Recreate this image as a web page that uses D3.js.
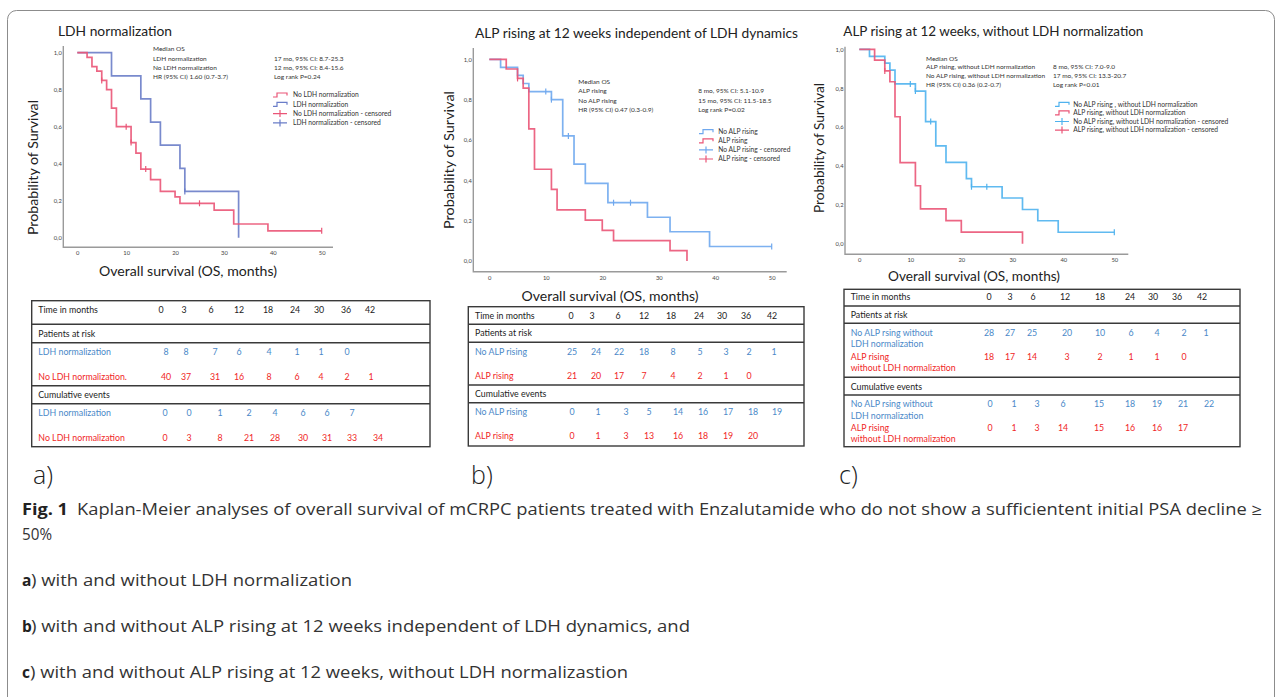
<!DOCTYPE html>
<html>
<head>
<meta charset="utf-8">
<script src="https://cdn.jsdelivr.net/npm/d3@7"></script>
<style>
body { margin: 0; background: #fff; }
text { font-family: Lato, "Open Sans", sans-serif; }
</style>
</head>
<body>
<div id="container"></div>
<script>
var width = 1282,
    height = 697;

// axis ticks of the survival plots
var monthTicks = [0, 10, 20, 30, 40, 50];
var survTicks = [0, 0.2, 0.4, 0.6, 0.8, 1.0];

// a) Kaplan-Meier steps [month, survival] and censored marks
var aNoLdh = [[0,1],[2,0.975],[3,0.925],[4,0.9],[5,0.85],[6,0.8],[7,0.7],[8,0.6],[11,0.514],[12,0.457],[13,0.371],[15,0.314],[17,0.25],[20,0.221],[21,0.186],[28,0.149],[32,0.074],[39,0.037],[50,0.037]];
var aNoLdhCens = [[5,0.85],[10,0.6],[11,0.514],[14,0.371],[25,0.186],[50,0.037]];
var aLdh = [[0,1],[7,0.875],[13,0.75],[15,0.625],[17,0.5],[21,0.375],[22,0.25],[33,0.25],[33,0]];
var aLdhCens = [[22,0.25]];

// b)
var bNoAlp = [[0,1],[2,0.96],[5,0.92],[6,0.88],[7,0.84],[11,0.8],[13,0.62],[15,0.48],[17,0.385],[21,0.289],[28,0.217],[32,0.145],[39,0.072],[50,0.072]];
var bNoAlpCens = [[10,0.84],[11,0.8],[14,0.62],[22,0.289],[25,0.289],[50,0.072]];
var bAlp = [[0,1],[3,0.952],[5,0.905],[6,0.857],[7,0.655],[8,0.455],[11,0.355],[12,0.253],[17,0.203],[20,0.152],[22,0.101],[32,0.051],[35,0.051],[35,0]];
var bAlpCens = [[5,0.905]];

// c)
var cNoAlp = [[0,1],[2,0.964],[5,0.929],[6,0.893],[7,0.822],[11,0.785],[13,0.628],[15,0.503],[17,0.418],[21,0.335],[22,0.293],[28,0.235],[32,0.176],[35,0.118],[39,0.059],[50,0.059]];
var cNoAlpCens = [[10,0.822],[11,0.785],[14,0.628],[22,0.293],[25,0.293],[50,0.059]];
var cAlp = [[0,1],[3,0.944],[5,0.889],[6,0.833],[7,0.653],[8,0.417],[11,0.298],[12,0.179],[17,0.119],[20,0.06],[32,0.06],[32,0]];
var cAlpCens = [[5,0.889]];

// number-at-risk tables
var tableMonths = ["0", "3", "6", "12", "18", "24", "30", "36", "42"];
var aRiskLdh = [8, 8, 7, 6, 4, 1, 1, 0];
var aRiskNoLdh = [40, 37, 31, 16, 8, 6, 4, 2, 1];
var aEventsLdh = [0, 0, 1, 2, 4, 6, 6, 7];
var aEventsNoLdh = [0, 3, 8, 21, 28, 30, 31, 33, 34];
var bRiskNoAlp = [25, 24, 22, 18, 8, 5, 3, 2, 1];
var bRiskAlp = [21, 20, 17, 7, 4, 2, 1, 0];
var bEventsNoAlp = [0, 1, 3, 5, 14, 16, 17, 18, 19];
var bEventsAlp = [0, 1, 3, 13, 16, 18, 19, 20];
var cRiskNoAlp = [28, 27, 25, 20, 10, 6, 4, 2, 1];
var cRiskAlp = [18, 17, 14, 3, 2, 1, 1, 0];
var cEventsNoAlp = [0, 1, 3, 6, 15, 18, 19, 21, 22];
var cEventsAlp = [0, 1, 3, 14, 15, 16, 16, 17];

var red = "#ea5577",
    blueA = "#6a7dc8",
    blueB = "#6fa8ee",
    blueC = "#4fb2ee",
    tBlue = "#4a88c8",
    tRed = "#f02626";

var panels = [
  {
    title: "LDH normalization", titleX: 58, titleY: 36, titleLen: 114,
    x0: 77.3, x50: 321.7, y1: 52.7, y0: 237.7,
    axL: 63.3, axT: 46, axB: 247.3, axR: 333,
    yLab: [33, 167.5, 135], xLab: [188, 276, 178],
    stats: [["Median OS", ""], ["LDH normalization", "17 mo, 95% CI: 8.7-25.3"], ["No LDH normalization", "12 mo, 95% CI: 8.4-15.6"], ["HR (95% CI) 1.60 (0.7-3.7)", "Log rank P=0.24"]],
    statX: [153, 274], statY: 49, statDy: 9.4,
    series: [
      {name: "LDH normalization", color: blueA, steps: aLdh, cens: aLdhCens},
      {name: "No LDH normalization", color: red, steps: aNoLdh, cens: aNoLdhCens}
    ],
    legend: [["No LDH normalization", red, "step"], ["LDH normalization", blueA, "step"], ["No LDH normalization - censored", red, "cens"], ["LDH normalization - censored", blueA, "cens"]],
    legX: 273, legTx: 293, legY: 95, legDy: 9.3
  },
  {
    title: "ALP rising at 12 weeks independent of LDH dynamics", titleX: 475, titleY: 38, titleLen: 323,
    x0: 489.3, x50: 771.7, y1: 59.3, y0: 261,
    axL: 473.3, axT: 48, axB: 271.7, axR: 786.7,
    yLab: [449.3, 160, 138], xLab: [610, 301, 177],
    stats: [["Median OS", ""], ["ALP rising", "8 mo, 95% CI: 5.1-10.9"], ["No ALP rising", "15 mo, 95% CI: 11.5-18.5"], ["HR (95% CI) 0.47 (0.3-0.9)", "Log rank P=0.02"]],
    statX: [578.3, 698.3], statY: 81.7, statDy: 9.5,
    series: [
      {name: "No ALP rising", color: blueB, steps: bNoAlp, cens: bNoAlpCens},
      {name: "ALP rising", color: red, steps: bAlp, cens: bAlpCens}
    ],
    legend: [["No ALP rising", blueB, "step"], ["ALP rising", red, "step"], ["No ALP rising - censored", blueB, "cens"], ["ALP rising - censored", red, "cens"]],
    legX: 699, legTx: 718.3, legY: 131.7, legDy: 9.1
  },
  {
    title: "ALP rising at 12 weeks, without LDH normalization", titleX: 843.3, titleY: 36, titleLen: 300,
    x0: 859.3, x50: 1114.3, y1: 49.3, y0: 243.7,
    axL: 845, axT: 46.7, axB: 254.3, axR: 1128.3,
    yLab: [819, 148, 130], xLab: [974, 281, 172],
    stats: [["Median OS", ""], ["ALP rising, without LDH normalization", "8 mo, 95% CI: 7.0-9.0"], ["No ALP rising, without LDH normalization", "17 mo, 95% CI: 13.3-20.7"], ["HR (95% CI) 0.36 (0.2-0.7)", "Log rank P<0.01"]],
    statX: [926, 1053], statY: 58.3, statDy: 8.9,
    series: [
      {name: "No ALP rising", color: blueC, steps: cNoAlp, cens: cNoAlpCens},
      {name: "ALP rising", color: red, steps: cAlp, cens: cAlpCens}
    ],
    legend: [["No ALP rising , without LDH normalization", blueC, "step"], ["ALP rising, without LDH normalization", red, "step"], ["No ALP rising, without LDH normalization - censored", blueC, "cens"], ["ALP rising, without LDH normalization - censored", red, "cens"]],
    legX: 1055, legTx: 1073.3, legY: 104.3, legDy: 8.6
  }
];

var tables = [
  {
    box: [31.7, 300.7, 430, 446.7], seps: [324.3, 342.7, 385.7, 403.7], labelX: 38.3,
    headY: 310, atRiskY: 334, cumY: 395,
    headCols: [161, 184, 211, 239, 268, 295, 319, 346, 370],
    riskCols: [166, 186, 215, 239, 269, 297, 321, 347, 371],
    eventCols: [165, 189, 220, 249, 275, 303, 327, 352, 378],
    rows: [
      {y: 352.3, lines: ["LDH normalization"], color: tBlue, vals: aRiskLdh, cols: "riskCols"},
      {y: 376.7, lines: ["No LDH normalization."], color: tRed, vals: aRiskNoLdh, cols: "riskCols"},
      {y: 413.3, lines: ["LDH normalization"], color: tBlue, vals: aEventsLdh, cols: "eventCols"},
      {y: 437.7, lines: ["No LDH normalization"], color: tRed, vals: aEventsNoLdh, cols: "eventCols"}
    ]
  },
  {
    box: [468.3, 306.7, 804, 446], seps: [324.3, 342.3, 385, 402.7], labelX: 475,
    headY: 315.7, atRiskY: 333.3, cumY: 394,
    headCols: [571, 592, 618, 644, 671, 699, 722, 746, 772],
    riskCols: [572, 596, 619, 644, 673, 700, 726, 749, 774],
    eventCols: [572, 598, 626, 649, 678, 703, 728, 753, 777],
    rows: [
      {y: 351.7, lines: ["No ALP rising"], color: tBlue, vals: bRiskNoAlp, cols: "riskCols"},
      {y: 375.7, lines: ["ALP rising"], color: tRed, vals: bRiskAlp, cols: "riskCols"},
      {y: 412.3, lines: ["No ALP rising"], color: tBlue, vals: bEventsNoAlp, cols: "eventCols"},
      {y: 436.3, lines: ["ALP rising"], color: tRed, vals: bEventsAlp, cols: "eventCols"}
    ]
  },
  {
    box: [844, 289.3, 1240, 446.7], seps: [306, 323.3, 377.3, 395], labelX: 850.7,
    headY: 297.3, atRiskY: 315, cumY: 386.7,
    headCols: [989, 1010, 1033, 1065, 1100, 1130, 1153, 1177, 1202],
    riskCols: [989, 1010, 1032, 1067, 1100, 1131, 1157, 1184, 1206],
    eventCols: [990, 1014, 1037, 1063, 1099, 1130, 1157, 1183, 1209],
    rows: [
      {y: 332.7, lines: ["No ALP rsing without", "LDH normalization"], color: tBlue, vals: cRiskNoAlp, cols: "riskCols"},
      {y: 356.7, lines: ["ALP rising", "without LDH normalization"], color: tRed, vals: cRiskAlp, cols: "riskCols"},
      {y: 404, lines: ["No ALP rsing without", "LDH normalization"], color: tBlue, vals: cEventsNoAlp, cols: "eventCols"},
      {y: 427.7, lines: ["ALP rising", "without LDH normalization"], color: tRed, vals: cEventsAlp, cols: "eventCols"}
    ]
  }
];

var panelLetters = [["a)", 33], ["b)", 471], ["c)", 839]];

var svg = d3.select("#container").append("svg")
    .attr("width", width)
    .attr("height", height);

// figure frame
svg.append("rect")
    .attr("x", 7.5).attr("y", 10.5)
    .attr("width", 1267).attr("height", 720)
    .attr("rx", 9)
    .attr("fill", "none")
    .attr("stroke", "#8c8c8c");

panels.forEach(drawPanel);
tables.forEach(drawTable);

function drawPanel(p) {
    var x = d3.scaleLinear().domain([0, 50]).range([p.x0, p.x50]);
    var y = d3.scaleLinear().domain([0, 1]).range([p.y0, p.y1]);
    var g = svg.append("g");

    g.append("text")
        .attr("x", p.titleX).attr("y", p.titleY)
        .attr("font-size", 13.5)
        .attr("fill", "#222")
        .attr("textLength", p.titleLen)
        .attr("lengthAdjust", "spacingAndGlyphs")
        .text(p.title);

    // axis lines
    g.append("path")
        .attr("d", "M" + p.axL + "," + p.axT + "V" + p.axB + "H" + p.axR)
        .attr("fill", "none")
        .attr("stroke", "#9a9a9a")
        .attr("stroke-width", 1.4);

    var xAxis = g.append("g")
        .attr("transform", "translate(0," + p.axB + ")")
        .call(d3.axisBottom(x).tickValues(monthTicks).tickSize(0).tickPadding(4));
    var yAxis = g.append("g")
        .attr("transform", "translate(" + (p.axL - 1.5) + ",0)")
        .call(d3.axisLeft(y).tickValues(survTicks).tickSize(0).tickPadding(0)
            .tickFormat(function(d) { return d3.format(".1f")(d).replace(".", ","); }));
    [xAxis, yAxis].forEach(function(a) {
        a.select(".domain").remove();
        a.attr("font-family", null).attr("font-size", null);
        a.selectAll("text").attr("font-size", 5.8).attr("fill", "#444");
    });

    // axis titles
    g.append("text")
        .attr("transform", "translate(" + p.yLab[0] + "," + p.yLab[1] + ") rotate(-90)")
        .attr("text-anchor", "middle")
        .attr("dy", "0.35em")
        .attr("font-size", 14)
        .attr("fill", "#222")
        .attr("textLength", p.yLab[2])
        .attr("lengthAdjust", "spacingAndGlyphs")
        .text("Probability of Survival");
    g.append("text")
        .attr("x", p.xLab[0] - p.xLab[2] / 2).attr("y", p.xLab[1])
        .attr("font-size", 14)
        .attr("fill", "#222")
        .attr("textLength", p.xLab[2])
        .attr("lengthAdjust", "spacingAndGlyphs")
        .text("Overall survival (OS, months)");

    // curves
    var line = d3.line()
        .x(function(d) { return x(d[0]); })
        .y(function(d) { return y(d[1]); })
        .curve(d3.curveStepAfter);

    p.series.forEach(function(s) {
        g.append("path")
            .datum(s.steps)
            .attr("d", line)
            .attr("fill", "none")
            .attr("stroke", s.color)
            .attr("stroke-width", 1.7)
            .attr("stroke-opacity", 0.9);
        g.selectAll(null)
            .data(s.cens)
            .join("line")
            .attr("x1", function(d) { return x(d[0]); })
            .attr("x2", function(d) { return x(d[0]); })
            .attr("y1", function(d) { return y(d[1]) - 3; })
            .attr("y2", function(d) { return y(d[1]) + 3; })
            .attr("stroke", s.color)
            .attr("stroke-width", 1.2);
    });

    // median OS block
    p.stats.forEach(function(r, i) {
        r.forEach(function(t, j) {
            g.append("text")
                .attr("x", p.statX[j])
                .attr("y", p.statY + i * p.statDy)
                .attr("dy", "0.35em")
                .attr("font-size", 6.5)
                .attr("fill", "#333")
                .text(t);
        });
    });

    // legend
    p.legend.forEach(function(l, i) {
        var ly = p.legY + i * p.legDy;
        var sym = l[2] == "step"
            ? "M" + p.legX + "," + (ly + 2) + "h4v-4h10v2.5"
            : "M" + p.legX + "," + ly + "h14M" + (p.legX + 7) + "," + (ly - 3.5) + "v7";
        g.append("path")
            .attr("d", sym)
            .attr("fill", "none")
            .attr("stroke", l[1])
            .attr("stroke-width", 1.2);
        g.append("text")
            .attr("x", p.legTx).attr("y", ly)
            .attr("dy", "0.35em")
            .attr("font-size", 6.7)
            .attr("fill", "#333")
            .text(l[0]);
    });
}

function drawTable(t) {
    var g = svg.append("g");
    var b = t.box;
    g.append("rect")
        .attr("x", b[0]).attr("y", b[1])
        .attr("width", b[2] - b[0]).attr("height", b[3] - b[1])
        .attr("fill", "none")
        .attr("stroke", "#3a3a3a")
        .attr("stroke-width", 1.4);
    g.selectAll(null)
        .data(t.seps)
        .join("line")
        .attr("x1", b[0]).attr("x2", b[2])
        .attr("y1", function(d) { return d; })
        .attr("y2", function(d) { return d; })
        .attr("stroke", "#3a3a3a")
        .attr("stroke-width", 1.4);

    function label(txt, x, y, color) {
        return g.append("text")
            .attr("x", x).attr("y", y)
            .attr("dy", "0.35em")
            .attr("font-size", 8.8)
            .attr("fill", color)
            .text(txt);
    }

    label("Time in months", t.labelX, t.headY, "#222");
    label("Patients at risk", t.labelX, t.atRiskY, "#222");
    label("Cumulative events", t.labelX, t.cumY, "#222");

    g.selectAll(null)
        .data(tableMonths)
        .join("text")
        .attr("x", function(d, i) { return t.headCols[i]; })
        .attr("y", t.headY)
        .attr("dy", "0.35em")
        .attr("text-anchor", "middle")
        .attr("font-size", 8.8)
        .attr("fill", "#222")
        .text(function(d) { return d; });

    t.rows.forEach(function(r) {
        r.lines.forEach(function(s, k) {
            label(s, t.labelX, r.y + k * 11.6, r.color);
        });
        g.selectAll(null)
            .data(r.vals)
            .join("text")
            .attr("x", function(d, i) { return t[r.cols][i]; })
            .attr("y", r.y)
            .attr("dy", "0.35em")
            .attr("text-anchor", "middle")
            .attr("font-size", 8.8)
            .attr("fill", r.color)
            .text(function(d) { return d; });
    });
}

// panel letters
svg.selectAll(".letter")
    .data(panelLetters)
    .join("text")
    .attr("class", "letter")
    .attr("x", function(d) { return d[1]; })
    .attr("y", 484)
    .attr("font-size", 25)
    .attr("font-weight", 300)
    .attr("fill", "#222")
    .style("font-family", "'Open Sans', sans-serif")
    .text(function(d) { return d[0]; });

// caption
var capLines = [
  ["Fig. 1", "Kaplan-Meier analyses of overall survival of mCRPC patients treated with Enzalutamide who do not show a sufficientent initial PSA decline \u2265", 515, 77, 1262],
  ["", "50%", 540, 22, 52],
  ["a", ") with and without LDH normalization", 586, 31, 352],
  ["b", ") with and without ALP rising at 12 weeks independent of LDH dynamics, and", 632, 31, 690],
  ["c", ") with and without ALP rising at 12 weeks, without LDH normalizastion", 678, 30, 628]
];

capLines.forEach(function(c) {
    if (c[0]) {
        svg.append("text")
            .attr("x", 22).attr("y", c[2])
            .attr("font-size", 15.5)
            .attr("font-weight", 700)
            .attr("fill", "#222")
            .style("font-family", "'Open Sans', sans-serif")
            .attr("textLength", c[0].length > 1 ? 46 : null)
            .attr("lengthAdjust", "spacingAndGlyphs")
            .text(c[0]);
    }
    svg.append("text")
        .attr("x", c[3]).attr("y", c[2])
        .attr("font-size", 15.5)
        .attr("fill", "#333")
        .attr("textLength", c[4] - c[3])
        .attr("lengthAdjust", "spacingAndGlyphs")
        .style("font-family", "'Open Sans', sans-serif")
        .text(c[1]);
});
</script>
</body>
</html>
